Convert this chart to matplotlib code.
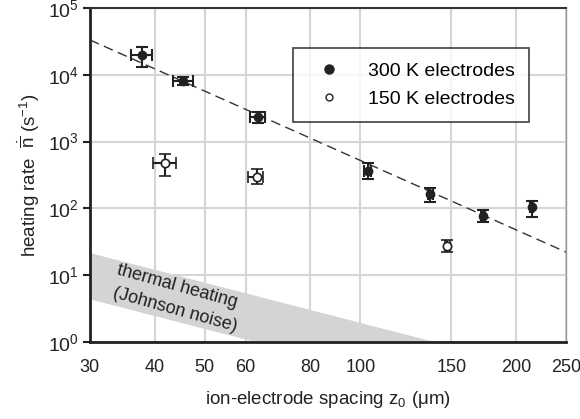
import matplotlib
matplotlib.use("Agg")
import matplotlib.pyplot as plt
from matplotlib.ticker import FixedLocator, NullFormatter
import numpy as np

plt.rcParams['font.family'] = ['Liberation Sans', 'DejaVu Sans']
plt.rcParams['mathtext.fontset'] = 'custom'
plt.rcParams['mathtext.rm'] = 'Liberation Sans'
plt.rcParams['mathtext.it'] = 'Liberation Sans:italic'

# 300 K electrodes
z_warm = [37.9, 45.4, 63.3, 103.3, 136.4, 172.5, 214.5]
rate_warm = [19800, 8100, 2360, 367, 163, 78, 103]
rate_warm_hi = [25800, 9400, 2810, 473, 204, 95, 129]
rate_warm_lo = [13200, 7000, 1920, 273, 126, 63, 75]
z_warm_lo = [36.0, 43.4, 61.2, 101.5, 135.0, 171.0, 213.0]
z_warm_hi = [39.6, 47.5, 65.5, 105.0, 138.0, 174.0, 216.0]

# 150 K electrodes
z_cold = [41.9, 63.0, 147.3]
rate_cold = [483, 299, 27.4]
rate_cold_hi = [652, 385, 33.6]
rate_cold_lo = [309, 230, 22.5]
z_cold_lo = [39.8, 60.7, 145.5]
z_cold_hi = [44.0, 64.9, 149.0]

# power-law fit (dashed) and Johnson-noise band
fit_amp, fit_z0, fit_exp = 33200, 30.0, -3.45
band_hi_amp, band_lo_amp, band_z0, band_exp = 21.7, 4.4, 30.0, -2.0

xticks = [30, 40, 50, 60, 80, 100, 150, 200, 250]
yticks = [1e0, 1e1, 1e2, 1e3, 1e4, 1e5]

fig = plt.figure(figsize=(5.8, 4.19), dpi=100)
ax = fig.add_axes([0.155, 0.184, 0.821, 0.797])
ax.set_xscale('log')
ax.set_yscale('log')
ax.set_xlim(30, 250)
ax.set_ylim(1, 1e5)

# grid
ax.set_xticks(xticks)
ax.set_xticklabels([str(t) for t in xticks])
ax.xaxis.set_minor_locator(FixedLocator([100]))
ax.xaxis.set_minor_formatter(NullFormatter())
ax.set_yticks(yticks)
ax.set_yticklabels([r'$10^{%d}$' % int(np.log10(t)) for t in yticks])
ax.yaxis.set_minor_locator(FixedLocator([]))
ax.grid(True, which='major', color='#d6d6d6', lw=1.5, zorder=0)
ax.set_axisbelow(True)

zz = np.geomspace(30, 250, 200)
ax.fill_between(zz, band_lo_amp * (zz / band_z0) ** band_exp,
                band_hi_amp * (zz / band_z0) ** band_exp,
                color='#d4d4d4', lw=0, zorder=1)
ax.plot(zz, fit_amp * (zz / fit_z0) ** fit_exp, color='#333333', lw=1,
        dashes=(7, 4), zorder=2)

def err(v, lo, hi):
    return [np.array(v) - np.array(lo), np.array(hi) - np.array(v)]

ax.errorbar(z_warm, rate_warm, yerr=err(rate_warm, rate_warm_lo, rate_warm_hi),
            xerr=err(z_warm, z_warm_lo, z_warm_hi), fmt='o', ms=6,
            color='#222222', mfc='#222222', ecolor='#222222', elinewidth=1.5,
            capsize=4.5, capthick=1.5, zorder=4)
ax.errorbar(z_cold, rate_cold, yerr=err(rate_cold, rate_cold_lo, rate_cold_hi),
            xerr=err(z_cold, z_cold_lo, z_cold_hi), fmt='o', ms=6,
            color='#222222', mfc='white', mew=1.2, ecolor='#222222',
            elinewidth=1.5, capsize=4.5, capthick=1.5, zorder=4)

# legend
ax.plot([], [], 'o', color='#222222', ms=6.5, label='300 K electrodes')
ax.plot([], [], 'o', color='#222222', mfc='white', ms=5, label='150 K electrodes')
h, l = ax.get_legend_handles_labels()
leg = ax.legend(h[-2:], l[-2:], loc='upper left', bbox_to_anchor=(0.426, 0.88),
                borderaxespad=0, fontsize=14, frameon=True, fancybox=False,
                edgecolor='#222222', borderpad=0.75, handletextpad=0.9,
                labelspacing=0.5, handlelength=2.2)
leg.get_frame().set_linewidth(1.3)

ax.text(44.2, 6.7, 'thermal heating', rotation=-15.5, fontsize=13,
        ha='center', va='center', color='#222222')
ax.text(43.9, 3.0, '(Johnson noise)', rotation=-15.5, fontsize=13,
        ha='center', va='center', color='#222222')

for side in ['left', 'bottom']:
    ax.spines[side].set_color('#222222')
    ax.spines[side].set_linewidth(2)
ax.spines['top'].set_color('#333333')
ax.spines['top'].set_linewidth(1.5)
ax.spines['right'].set_color('#999999')
ax.spines['right'].set_linewidth(1)

ax.tick_params(axis='x', which='major', length=0, pad=12, labelsize=13,
               colors='#222222')
ax.tick_params(axis='x', which='minor', length=5, width=1.5, color='#222222')
ax.tick_params(axis='y', length=5, width=1.5, color='#222222', pad=3,
               labelsize=14, labelcolor='#222222')

ax.set_xlabel(r'ion-electrode spacing z$_0$ (μm)', fontsize=13.5,
              color='#222222', labelpad=10)
ax.set_ylabel(r'heating rate  $\mathrm{\dot{\overline{n}}}$ (s$^{-1}$)',
              fontsize=13.5, color='#222222', labelpad=4)

fig.savefig('out.png', dpi=100)
